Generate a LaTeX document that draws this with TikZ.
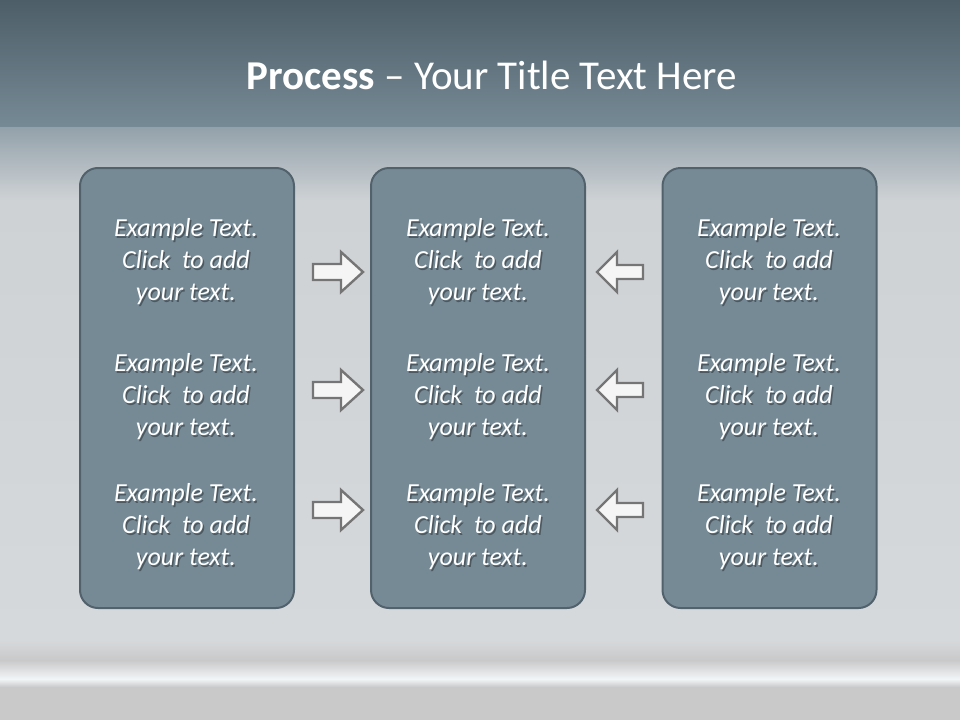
\documentclass[tikz,border=0pt]{standalone}
\usepackage{fontspec}
\setmainfont{Carlito}
\usetikzlibrary{positioning}

\definecolor{bandtop}{HTML}{4D5E68}
\definecolor{bandlow}{HTML}{768A95}
\definecolor{fadetop}{HTML}{93A1AA}
\definecolor{plate}{HTML}{CED2D5}
\definecolor{platelow}{HTML}{D6D9DB}
\definecolor{floor}{HTML}{C9C9CA}
\definecolor{streak}{HTML}{F2F5F7}
\definecolor{panelfill}{HTML}{768A96}
\definecolor{panelline}{HTML}{52626D}
\definecolor{arrowline}{HTML}{757575}
\definecolor{arrowfill}{HTML}{F5F5F5}

\begin{document}
\begin{tikzpicture}[
  x=1pt,y=-1pt,
  panel/.style={draw=panelline,line width=2pt,fill=panelfill,rounded corners=18pt,
    minimum width=214pt,minimum height=440pt,inner sep=0pt},
  blurb/.style={align=center,text=white,inner sep=0pt,
    font=\fontsize{26}{32}\selectfont\itshape},
  blurbshade/.style={blurb,text=black,text opacity=.35},
  arrowbody/.style={draw=arrowline,fill=arrowfill,line width=2.4pt,line join=miter},
  pics/fwd/.style={code={
    \draw[arrowbody] (-25,-8)--(3,-8)--(3,-20)--(25,0)--(3,20)--(3,8)--(-25,8)--cycle;}},
  pics/back/.style={code={
    \draw[arrowbody,xscale=-1] (-23,-7)--(3,-7)--(3,-20)--(23,0)--(3,20)--(3,7)--(-23,7)--cycle;}}
]
\useasboundingbox (0,0) rectangle (960,720);
% background
\shade[top color=bandtop,bottom color=bandlow] (0,0) rectangle (960,127);
\shade[top color=fadetop,bottom color=plate] (0,127) rectangle (960,200);
\shade[top color=plate,bottom color=platelow] (0,200) rectangle (960,640);
\shade[top color=platelow,bottom color=floor] (0,640) rectangle (960,660);
\shade[top color=floor,bottom color=streak] (0,660) rectangle (960,679);
\shade[top color=streak,bottom color=floor] (0,679) rectangle (960,687);
\fill[floor] (0,687) rectangle (960,720);

\node[text=white,font=\fontsize{41}{50}\selectfont] (title) at (492,75)
  {\textbf{Process} -- Your Title Text Here};

% panels
\node[panel] (left) at (187,388) {};
\node[panel] (mid) at (478,388) {};
\node[panel] (right) at (769.5,388) {};

% texts, with their drop shadow
\foreach \col/\xx in {l/186,m/478,r/769}{
  \foreach \row/\yy in {1/262,2/397,3/527}{
    \node[blurbshade] at (\xx+1.5,\yy+2) {Example Text.\\Click~~to add\\your text.};
    \node[blurb] (\col\row) at (\xx,\yy) {Example Text.\\Click~~to add\\your text.};
  }
}

% arrows
\foreach \row/\yy in {1/272,2/390,3/510}{
  \pic at (338,\yy) {fwd};
  \pic at (620,\yy) {back};
}
\end{tikzpicture}
\end{document}
